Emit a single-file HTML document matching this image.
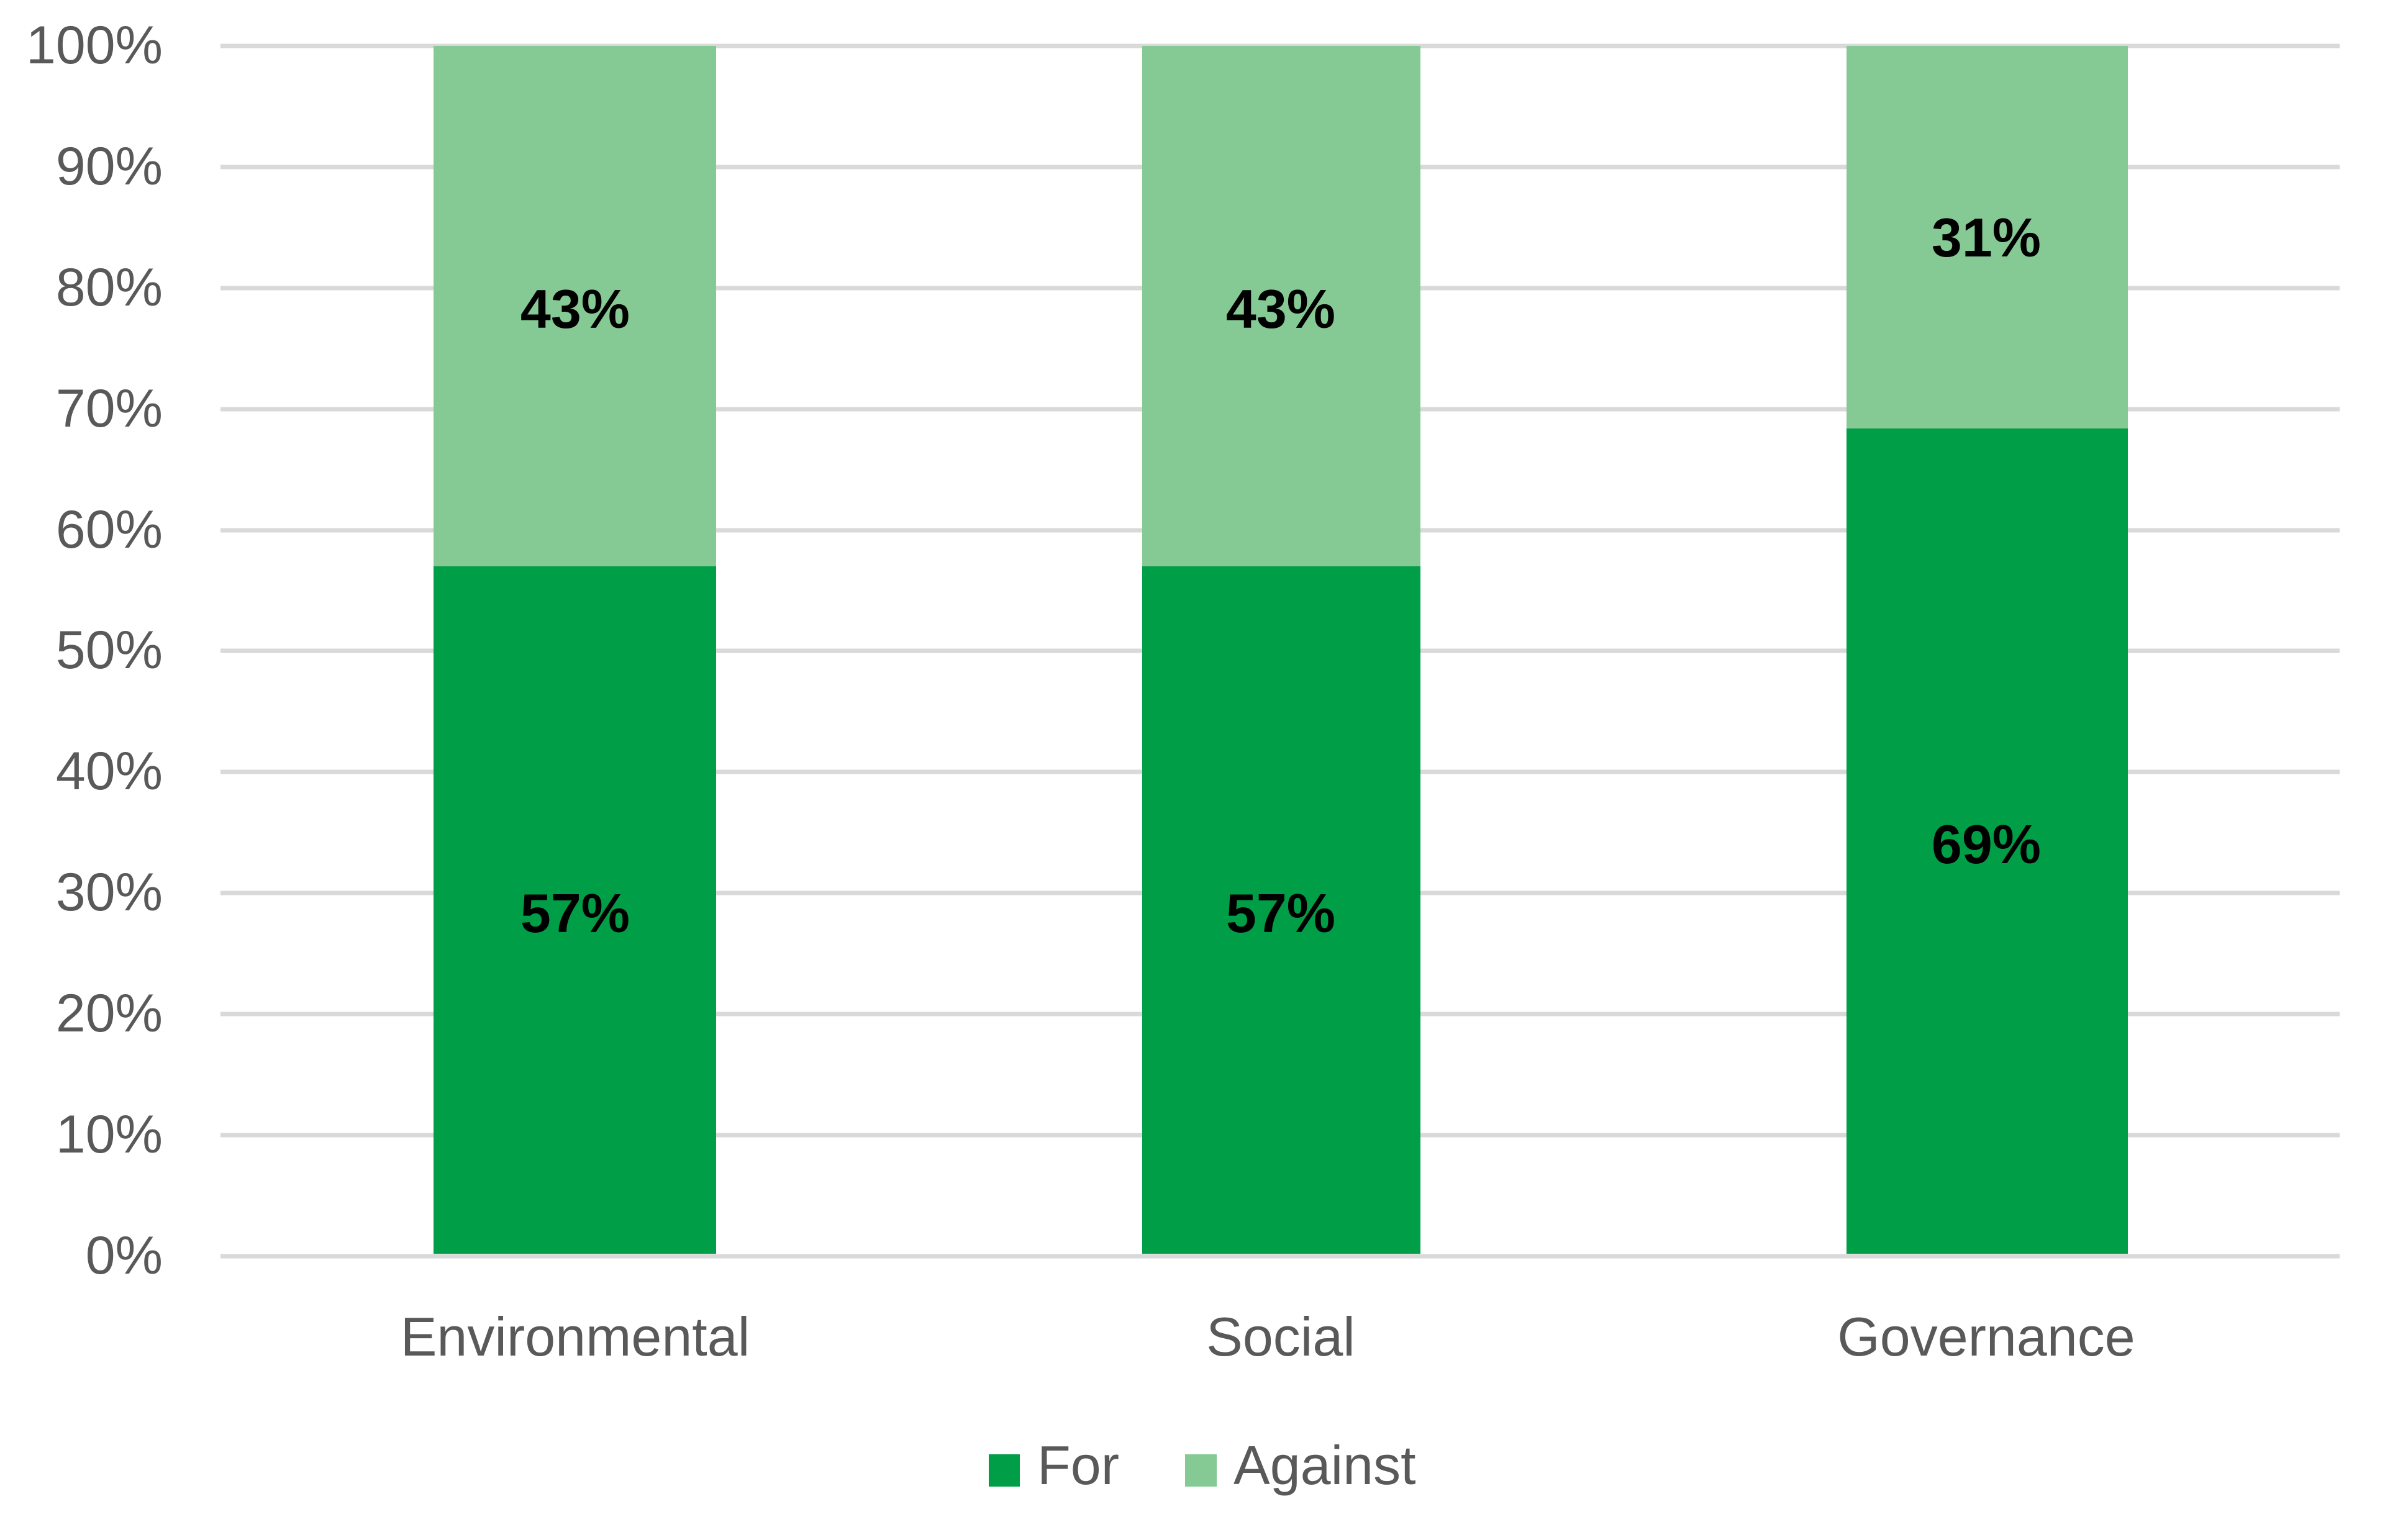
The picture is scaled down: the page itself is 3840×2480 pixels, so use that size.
<!DOCTYPE html>
<html><head><meta charset="utf-8"><style>html,body{margin:0;padding:0;background:#fff}svg{display:block}</style></head>
<body>
<svg width="3840" height="2480" viewBox="0 0 3840 2480" xmlns="http://www.w3.org/2000/svg" font-family="'Liberation Sans', sans-serif">
<rect width="3840" height="2480" fill="#fff"/>
<g stroke="#d9d9d9" stroke-width="7">
<line x1="355" x2="3767" y1="74" y2="74"/>
<line x1="355" x2="3767" y1="269" y2="269"/>
<line x1="355" x2="3767" y1="464" y2="464"/>
<line x1="355" x2="3767" y1="659" y2="659"/>
<line x1="355" x2="3767" y1="854" y2="854"/>
<line x1="355" x2="3767" y1="1048" y2="1048"/>
<line x1="355" x2="3767" y1="1243" y2="1243"/>
<line x1="355" x2="3767" y1="1438" y2="1438"/>
<line x1="355" x2="3767" y1="1633" y2="1633"/>
<line x1="355" x2="3767" y1="1828" y2="1828"/>
<line x1="355" x2="3767" y1="2023" y2="2023"/>
</g>
<g fill="#595959" font-size="86" text-anchor="end">
<text x="262" y="102">100%</text>
<text x="262" y="297">90%</text>
<text x="262" y="492">80%</text>
<text x="262" y="687">70%</text>
<text x="262" y="882">60%</text>
<text x="262" y="1076">50%</text>
<text x="262" y="1271">40%</text>
<text x="262" y="1466">30%</text>
<text x="262" y="1661">20%</text>
<text x="262" y="1856">10%</text>
<text x="262" y="2051">0%</text>
</g>
<rect x="698" y="74" width="455" height="839" fill="#85c995"/>
<rect x="698" y="912" width="455" height="1107" fill="#009e47"/>
<rect x="1839" y="74" width="448" height="839" fill="#85c995"/>
<rect x="1839" y="912" width="448" height="1107" fill="#009e47"/>
<rect x="2973" y="74" width="453" height="617" fill="#85c995"/>
<rect x="2973" y="690" width="453" height="1329" fill="#009e47"/>
<g fill="#000" font-size="88" font-weight="bold" text-anchor="middle">
<text x="926" y="528">43%</text>
<text x="2062" y="528">43%</text>
<text x="3198" y="413">31%</text>
<text x="926" y="1501">57%</text>
<text x="2062" y="1501">57%</text>
<text x="3198" y="1390">69%</text>
</g>
<g fill="#595959" font-size="88" text-anchor="middle">
<text x="926" y="2183">Environmental</text>
<text x="2062" y="2183">Social</text>
<text x="3198" y="2183">Governance</text>
</g>
<rect x="1592" y="2342" width="50" height="52" fill="#009e47"/>
<text x="1670" y="2390" fill="#595959" font-size="88">For</text>
<rect x="1908" y="2342" width="51" height="52" fill="#85c995"/>
<text x="1986" y="2390" fill="#595959" font-size="88">Against</text>
</svg>
</body></html>
